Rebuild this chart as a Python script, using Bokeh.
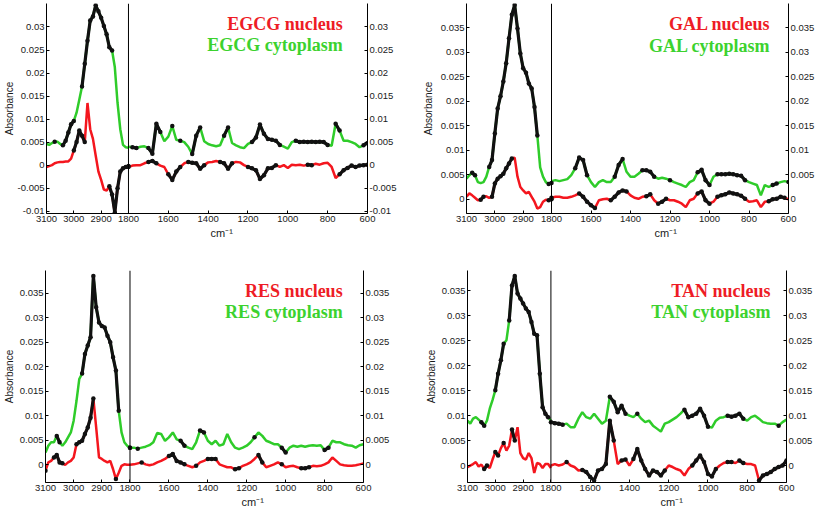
import numpy as np
from bokeh.plotting import figure
from bokeh.models import Range1d, LinearAxis, FixedTicker, CustomJSTickFormatter, Span, Label, Title
from bokeh.layouts import row, column
from bokeh.embed import file_html
from bokeh.resources import INLINE

# ---------------- data ----------------
WN_LEFT = list(range(3100, 2799, -10))    # 3100 .. 2800 cm-1
WN_RIGHT = list(range(1800, 599, -20))    # 1800 .. 600 cm-1

X_TICKS = [3100, 3000, 2900, 1800, 1600, 1400, 1200, 1000, 800, 600]
X_TICK_LABELS = ["3100", "3000", "2900", "1800", "1600", "1400", "1200", "1000", "800", "600"]
Y_TICKS_EGCG = [-0.01, -0.005, 0.0, 0.005, 0.01, 0.015, 0.02, 0.025, 0.03]
Y_TICKS_OTHER = [0.0, 0.005, 0.01, 0.015, 0.02, 0.025, 0.03, 0.035]

# EGCG
EGCG_CYT_LEFT = [0.0046, 0.0044, 0.0048, 0.0051, 0.0051, 0.0046, 0.0043, 0.0053, 0.0071, 0.0089,
                 0.0096, 0.0114, 0.0142, 0.0171, 0.0220, 0.0270, 0.0314, 0.0323, 0.0347, 0.0334,
                 0.0320, 0.0302, 0.0284, 0.0256, 0.0249, 0.0213, 0.0135, 0.0078, 0.0044, 0.0039,
                 0.0038]
EGCG_NUC_LEFT = [-0.0004, -0.0002, 0.0000, 0.0004, 0.0006, 0.0007, 0.0007, 0.0008, 0.0008, 0.0014,
                 0.0032, 0.0050, 0.0075, 0.0064, 0.0050, 0.0135, 0.0078, 0.0057, 0.0021, -0.0014,
                 -0.0032, -0.0053, -0.0055, -0.0046, -0.0064, -0.0103, -0.0050, -0.0014, -0.0007, -0.0004,
                 -0.0002]
EGCG_CYT_RIGHT = [0.0040, 0.0039, 0.0037, 0.0040, 0.0041, 0.0037, 0.0025, 0.0090, 0.0072, 0.0052,
                  0.0062, 0.0085, 0.0055, 0.0053, 0.0050, 0.0040, 0.0024, 0.0064, 0.0082, 0.0052,
                  0.0046, 0.0043, 0.0041, 0.0043, 0.0064, 0.0082, 0.0048, 0.0043, 0.0039, 0.0037,
                  0.0046, 0.0050, 0.0060, 0.0088, 0.0068, 0.0057, 0.0055, 0.0053, 0.0044, 0.0040,
                  0.0036, 0.0050, 0.0053, 0.0050, 0.0051, 0.0050, 0.0051, 0.0050, 0.0051, 0.0050,
                  0.0044, 0.0042, 0.0090, 0.0075, 0.0053, 0.0053, 0.0050, 0.0046, 0.0039, 0.0043,
                  0.0048]
EGCG_NUC_RIGHT = [-0.0004, -0.0001, 0.0000, 0.0000, 0.0004, 0.0007, 0.0009, 0.0004, -0.0001, -0.0004,
                  -0.0020, -0.0032, -0.0014, -0.0004, 0.0004, 0.0007, 0.0005, 0.0004, -0.0008, 0.0000,
                  0.0006, 0.0007, 0.0009, 0.0007, 0.0004, -0.0008, 0.0004, 0.0007, 0.0006, 0.0000,
                  -0.0004, -0.0007, -0.0011, -0.0030, -0.0022, -0.0007, -0.0006, 0.0000, -0.0004, 0.0000,
                  -0.0006, 0.0001, 0.0000, 0.0001, -0.0001, 0.0001, 0.0000, 0.0003, 0.0001, 0.0004,
                  0.0005, -0.0004, -0.0028, -0.0020, -0.0011, -0.0006, -0.0001, -0.0004, -0.0001, 0.0000,
                  0.0001]
EGCG_CYT_BLACK = [(3078, 3062), (3045, 2993), (2978, 2852), (1790, 1760), (1700, 1640), (1595, 1570),
                  (1555, 1530), (1495, 1430), (1320, 1300), (1190, 1040), (960, 800), (765, 740), (630, 600)]
EGCG_NUC_BLACK = [(3005, 2957), (2870, 2800), (1800, 1790), (1700, 1660), (1615, 1530), (1500, 1415),
                  (1350, 1280), (1200, 1050), (900, 880), (745, 600)]

# GAL
GAL_CYT_LEFT = [0.0042, 0.0049, 0.0054, 0.0049, 0.0035, 0.0033, 0.0035, 0.0046, 0.0066, 0.0080,
                0.0134, 0.0185, 0.0210, 0.0240, 0.0277, 0.0328, 0.0376, 0.0396, 0.0348, 0.0297,
                0.0267, 0.0258, 0.0236, 0.0226, 0.0188, 0.0130, 0.0065, 0.0046, 0.0035, 0.0031,
                0.0033]
GAL_NUC_LEFT = [0.0005, 0.0012, 0.0008, 0.0003, -0.0002, -0.0001, 0.0005, 0.0006, 0.0003, 0.0005,
                0.0032, 0.0042, 0.0047, 0.0052, 0.0063, 0.0073, 0.0083, 0.0085, 0.0046, 0.0025,
                0.0018, 0.0012, 0.0015, 0.0005, -0.0005, -0.0019, -0.0016, -0.0005, -0.0001, -0.0002,
                0.0000]
GAL_CYT_RIGHT = [0.0037, 0.0039, 0.0037, 0.0039, 0.0041, 0.0049, 0.0063, 0.0085, 0.0080, 0.0049,
                 0.0035, 0.0025, 0.0035, 0.0039, 0.0035, 0.0035, 0.0046, 0.0070, 0.0082, 0.0056,
                 0.0046, 0.0046, 0.0052, 0.0059, 0.0059, 0.0056, 0.0046, 0.0042, 0.0044, 0.0042,
                 0.0039, 0.0035, 0.0032, 0.0029, 0.0025, 0.0035, 0.0039, 0.0055, 0.0060, 0.0039,
                 0.0029, 0.0046, 0.0051, 0.0051, 0.0051, 0.0052, 0.0051, 0.0049, 0.0048, 0.0039,
                 0.0035, 0.0032, 0.0029, 0.0008, 0.0029, 0.0025, 0.0029, 0.0032, 0.0035, 0.0037,
                 0.0035]
GAL_NUC_RIGHT = [0.0003, 0.0005, 0.0005, 0.0003, 0.0003, 0.0005, 0.0008, 0.0012, 0.0005, -0.0005,
                 -0.0012, -0.0018, -0.0002, 0.0000, 0.0001, -0.0002, 0.0005, 0.0014, 0.0018, 0.0016,
                 0.0008, 0.0003, 0.0001, 0.0005, 0.0006, 0.0010, -0.0002, -0.0009, -0.0005, 0.0001,
                 -0.0002, -0.0002, -0.0005, -0.0009, -0.0016, -0.0002, 0.0001, 0.0012, 0.0016, -0.0002,
                 -0.0009, -0.0005, 0.0005, 0.0008, 0.0010, 0.0014, 0.0012, 0.0010, 0.0007, 0.0001,
                 -0.0005, -0.0004, -0.0002, -0.0016, -0.0005, -0.0004, 0.0000, 0.0001, 0.0005, 0.0003,
                 0.0000]
GAL_CYT_BLACK = [(3085, 3062), (3025, 2850), (2815, 2800), (1680, 1620), (1485, 1425), (1350, 1280),
                 (1215, 1195), (1070, 995), (975, 815), (680, 660), (615, 600)]
GAL_NUC_BLACK = [(3052, 3040), (3010, 2932), (2812, 2800), (1800, 1790), (1670, 1575), (1510, 1405),
                 (1330, 1300), (1260, 1220), (1060, 985), (970, 815), (700, 615)]

# RES
RES_CYT_LEFT = [0.0025, 0.0039, 0.0046, 0.0046, 0.0059, 0.0046, 0.0039, 0.0046, 0.0056, 0.0066,
                0.0090, 0.0130, 0.0175, 0.0186, 0.0226, 0.0243, 0.0260, 0.0385, 0.0321, 0.0290,
                0.0283, 0.0280, 0.0263, 0.0250, 0.0219, 0.0192, 0.0110, 0.0066, 0.0046, 0.0039,
                0.0035]
RES_NUC_LEFT = [-0.0012, 0.0005, 0.0008, 0.0015, 0.0020, 0.0005, 0.0003, 0.0000, 0.0005, 0.0008,
                0.0015, 0.0042, 0.0046, 0.0049, 0.0063, 0.0076, 0.0096, 0.0135, 0.0076, 0.0015,
                0.0012, 0.0008, 0.0005, 0.0008, -0.0009, -0.0029, -0.0016, -0.0002, 0.0001, 0.0000,
                0.0000]
RES_CYT_RIGHT = [0.0035, 0.0035, 0.0033, 0.0035, 0.0037, 0.0040, 0.0046, 0.0065, 0.0063, 0.0049,
                 0.0056, 0.0066, 0.0052, 0.0049, 0.0039, 0.0035, 0.0032, 0.0046, 0.0070, 0.0066,
                 0.0049, 0.0042, 0.0049, 0.0039, 0.0042, 0.0063, 0.0046, 0.0035, 0.0032, 0.0035,
                 0.0039, 0.0046, 0.0056, 0.0066, 0.0059, 0.0049, 0.0046, 0.0042, 0.0042, 0.0035,
                 0.0025, 0.0035, 0.0039, 0.0037, 0.0039, 0.0037, 0.0039, 0.0040, 0.0039, 0.0040,
                 0.0030, 0.0035, 0.0049, 0.0046, 0.0046, 0.0042, 0.0040, 0.0039, 0.0035, 0.0040,
                 0.0042]
RES_NUC_RIGHT = [0.0000, 0.0001, 0.0003, 0.0005, 0.0001, -0.0001, 0.0001, 0.0005, 0.0008, 0.0012,
                 0.0018, 0.0022, 0.0008, 0.0005, 0.0001, -0.0002, -0.0005, -0.0002, 0.0005, 0.0008,
                 0.0012, 0.0012, 0.0012, 0.0001, -0.0002, -0.0005, -0.0005, -0.0009, -0.0007, -0.0002,
                 0.0001, 0.0005, 0.0012, 0.0020, 0.0005, -0.0005, -0.0002, 0.0001, 0.0005, 0.0001,
                 -0.0005, -0.0003, -0.0002, -0.0005, -0.0007, -0.0007, -0.0005, -0.0002, -0.0003, -0.0002,
                 0.0001, 0.0005, 0.0015, 0.0008, 0.0001, -0.0001, -0.0002, -0.0002, -0.0001, 0.0001,
                 0.0003]
RES_CYT_BLACK = [(3068, 3045), (2975, 2840), (2805, 2800), (1800, 1790), (1760, 1750), (1540, 1515),
                 (1445, 1420), (1175, 1160), (1020, 985), (800, 780)]
RES_NUC_BLACK = [(3100, 3092), (3075, 3040), (2998, 2922), (2858, 2843), (1750, 1730), (1610, 1515),
                 (1475, 1450), (1415, 1345), (1270, 1235), (1150, 1115), (1035, 1005), (930, 870)]

# TAN
TAN_CYT_LEFT = [0.0090, 0.0084, 0.0094, 0.0097, 0.0092, 0.0087, 0.0080, 0.0090, 0.0114, 0.0131,
                0.0151, 0.0184, 0.0211, 0.0244, 0.0251, 0.0291, 0.0361, 0.0380, 0.0345, 0.0335,
                0.0325, 0.0315, 0.0308, 0.0288, 0.0264, 0.0261, 0.0184, 0.0117, 0.0104, 0.0097,
                0.0090]
TAN_NUC_LEFT = [-0.0003, 0.0000, 0.0003, 0.0007, -0.0002, 0.0002, -0.0007, 0.0000, -0.0005, 0.0012,
                0.0027, 0.0020, 0.0035, 0.0045, 0.0030, 0.0040, 0.0072, 0.0050, 0.0077, 0.0025,
                0.0015, 0.0012, 0.0025, 0.0015, -0.0015, 0.0005, 0.0003, -0.0005, 0.0003, 0.0003,
                -0.0005]
TAN_CYT_RIGHT = [0.0087, 0.0085, 0.0084, 0.0082, 0.0084, 0.0077, 0.0077, 0.0094, 0.0107, 0.0097,
                 0.0094, 0.0104, 0.0094, 0.0084, 0.0090, 0.0138, 0.0128, 0.0107, 0.0120, 0.0104,
                 0.0100, 0.0097, 0.0104, 0.0094, 0.0087, 0.0090, 0.0080, 0.0074, 0.0068, 0.0084,
                 0.0087, 0.0092, 0.0097, 0.0104, 0.0112, 0.0097, 0.0100, 0.0104, 0.0114, 0.0100,
                 0.0078, 0.0076, 0.0090, 0.0096, 0.0097, 0.0100, 0.0098, 0.0100, 0.0104, 0.0094,
                 0.0090, 0.0097, 0.0100, 0.0094, 0.0087, 0.0085, 0.0084, 0.0084, 0.0080, 0.0087,
                 0.0092]
TAN_NUC_RIGHT = [0.0000, 0.0003, 0.0000, 0.0002, 0.0007, 0.0000, -0.0003, -0.0010, -0.0009, -0.0013,
                 -0.0023, -0.0030, -0.0010, -0.0007, 0.0003, 0.0090, 0.0050, 0.0003, 0.0010, 0.0012,
                 0.0000, 0.0013, 0.0033, 0.0010, -0.0007, -0.0020, -0.0010, -0.0013, -0.0020, -0.0010,
                 0.0000, -0.0003, -0.0007, -0.0010, -0.0020, -0.0007, 0.0000, 0.0010, 0.0020, 0.0007,
                 -0.0017, -0.0022, -0.0007, 0.0000, 0.0005, 0.0007, 0.0007, 0.0005, 0.0010, 0.0005,
                 0.0003, 0.0003, 0.0000, -0.0030, -0.0020, -0.0017, -0.0013, -0.0007, -0.0003, 0.0000,
                 0.0010]
TAN_CYT_BLACK = [(3055, 3035), (3005, 2965), (2955, 2810), (1800, 1740), (1515, 1420), (1365, 1350),
                 (1120, 995), (915, 810), (640, 630)]
TAN_NUC_BLACK = [(3045, 3030), (3008, 2990), (2978, 2965), (2948, 2928), (1725, 1715), (1645, 1480),
                 (1440, 1420), (1390, 1220), (1080, 960), (900, 880), (850, 820), (755, 600)]

# ---------------- style ----------------
RED = "#f4161e"
GREEN = "#2fcc2a"
BLACK = "#111111"
RED_TXT = "#ee1c25"
GREEN_TXT = "#3cd22e"
TEXT_COL = "#1a1a1a"
TICK_FONT = "Liberation Sans"
LEGEND_FONT = "Liberation Serif"

# fig = (left, top, width, height) and frame = (left, top, right, bottom) in page pixels
PANELS = [
    dict(name="EGCG", nl=EGCG_NUC_LEFT, nr=EGCG_NUC_RIGHT, cl=EGCG_CYT_LEFT, cr=EGCG_CYT_RIGHT,
         nb=EGCG_NUC_BLACK, cb=EGCG_CYT_BLACK, yr=(-0.0105, 0.0351), yt=Y_TICKS_EGCG,
         fig=(0, 0, 414, 256), frame=(42, 3, 367, 216), ratio=0.729,
         legend=(342, 24, 45.5), ylab_standoff=0, xlab_left=206),
    dict(name="GAL", nl=GAL_NUC_LEFT, nr=GAL_NUC_RIGHT, cl=GAL_CYT_LEFT, cr=GAL_CYT_RIGHT,
         nb=GAL_NUC_BLACK, cb=GAL_CYT_BLACK, yr=(-0.0029, 0.0399), yt=Y_TICKS_OTHER,
         fig=(414, 0, 403, 256), frame=(466, 3, 788, 213), ratio=0.697,
         legend=(770, 23.5, 45), ylab_standoff=4, xlab_left=654),
    dict(name="RES", nl=RES_NUC_LEFT, nr=RES_NUC_RIGHT, cl=RES_CYT_LEFT, cr=RES_CYT_RIGHT,
         nb=RES_NUC_BLACK, cb=RES_CYT_BLACK, yr=(-0.0036, 0.0396), yt=Y_TICKS_OTHER,
         fig=(0, 256, 414, 254), frame=(43, 270, 363, 482), ratio=0.691,
         legend=(342, 290, 311.5), ylab_standoff=2, xlab_left=239),
    dict(name="TAN", nl=TAN_NUC_LEFT, nr=TAN_NUC_RIGHT, cl=TAN_CYT_LEFT, cr=TAN_CYT_RIGHT,
         nb=TAN_NUC_BLACK, cb=TAN_CYT_BLACK, yr=(-0.0034, 0.0391), yt=Y_TICKS_OTHER,
         fig=(414, 256, 403, 254), frame=(467, 270, 786, 482), ratio=0.706,
         legend=(770, 290, 311), ylab_standoff=2, xlab_left=660),
]


def xpos(w, r):
    w = np.asarray(w, dtype=float)
    return np.where(w >= 2800, 3100.0 - w, 300.0 + (1800.0 - w) * r)


def black_mask(wn, segs):
    wn = np.asarray(wn, dtype=float)
    m = np.zeros(len(wn), dtype=bool)
    for a, b in segs:
        m |= (wn <= max(a, b)) & (wn >= min(a, b))
    return m


def style_axis(ax):
    ax.axis_line_color = "black"
    ax.axis_line_width = 1
    ax.major_tick_in = 3
    ax.major_tick_out = 0
    ax.major_tick_line_color = "black"
    ax.minor_tick_line_color = None
    ax.major_label_text_font = TICK_FONT
    ax.major_label_text_font_size = "9.5px"
    ax.major_label_text_color = TEXT_COL
    ax.major_label_standoff = 2


Y_FMT_CODE = "return String(parseFloat(tick.toFixed(4)));"
X_FMT_CODE = """
let best = 0, d = Infinity;
for (let i = 0; i < pos.length; i++) {
  const e = Math.abs(pos[i] - tick);
  if (e < d) { d = e; best = i; }
}
return labels[best];
"""


def make_panel(cfg):
    r = cfg["ratio"]
    xmax = 300.0 + 1200.0 * r
    gx, gy, gw, gh = cfg["fig"]
    fl, ft, fr, fb = cfg["frame"]
    y0, y1 = cfg["yr"]

    p = figure(width=gw, height=gh, x_range=Range1d(0, xmax), y_range=Range1d(y0, y1),
               output_backend="svg", toolbar_location=None,
               min_border_left=fl - gx, min_border_right=gx + gw - fr,
               min_border_top=ft - gy, min_border_bottom=gy + gh - fb)
    p.outline_line_color = None
    p.xgrid.visible = False
    p.ygrid.visible = False
    p.background_fill_color = "white"
    p.border_fill_color = "white"

    def to_data(px, py):
        return ((px - fl) / (fr - fl) * xmax, y1 - (py - ft) / (fb - ft) * (y1 - y0))

    # coloured spectra (left and right parts drawn separately: broken axis)
    for wn, nuc, cyt in ((WN_LEFT, cfg["nl"], cfg["cl"]), (WN_RIGHT, cfg["nr"], cfg["cr"])):
        xs = xpos(wn, r)
        p.line(xs, cyt, line_color=GREEN, line_width=2.5)
        p.line(xs, nuc, line_color=RED, line_width=2.5)

    # black overlays (marked regions)
    for wn, vals_n, vals_c in ((WN_LEFT, cfg["nl"], cfg["cl"]), (WN_RIGHT, cfg["nr"], cfg["cr"])):
        xs = xpos(wn, r)
        for vals, segs in ((vals_c, cfg["cb"]), (vals_n, cfg["nb"])):
            v = np.asarray(vals, dtype=float)
            m = black_mask(wn, segs)
            p.line(xs, np.where(m, v, np.nan), line_color=BLACK, line_width=3.2)
            p.scatter(xs[m], v[m], size=4.5, color=BLACK, line_color=None)

    # break line
    p.add_layout(Span(location=300.0, dimension="height", line_color="black", line_width=1))

    # axes
    tick_pos = [float(v) for v in xpos(X_TICKS, r)]
    p.xaxis.ticker = FixedTicker(ticks=tick_pos)
    p.xaxis.formatter = CustomJSTickFormatter(args=dict(pos=tick_pos, labels=X_TICK_LABELS), code=X_FMT_CODE)
    p.yaxis.ticker = FixedTicker(ticks=cfg["yt"])
    p.yaxis.formatter = CustomJSTickFormatter(code=Y_FMT_CODE)
    right = LinearAxis(ticker=FixedTicker(ticks=cfg["yt"]), formatter=CustomJSTickFormatter(code=Y_FMT_CODE))
    p.add_layout(right, "right")
    for ax in (p.xaxis[0], p.yaxis[0], right):
        style_axis(ax)

    # y axis title
    yax = p.yaxis[0]
    yax.axis_label = "Absorbance"
    yax.axis_label_text_font = TICK_FONT
    yax.axis_label_text_font_size = "10px"
    yax.axis_label_text_font_style = "normal"
    yax.axis_label_text_color = TEXT_COL
    yax.axis_label_standoff = cfg["ylab_standoff"]

    # x axis title (offset so that it sits where the reference has it)
    p.add_layout(Title(text="cm\u207b\u00b9", align="left", offset=cfg["xlab_left"] - fl, standoff=0,
                       text_font=TICK_FONT, text_font_size="11px", text_font_style="normal",
                       text_color=TEXT_COL), "below")

    # legend texts
    lx, b1, b2 = cfg["legend"]
    for text, color, by in ((cfg["name"] + " nucleus", RED_TXT, b1), (cfg["name"] + " cytoplasm", GREEN_TXT, b2)):
        xd, yd = to_data(lx, by)
        p.add_layout(Label(x=xd, y=yd, text=text, text_font=LEGEND_FONT, text_font_style="bold",
                           text_font_size="18px", text_color=color, text_align="right",
                           text_baseline="alphabetic"))
    return p


figs = [make_panel(c) for c in PANELS]
layout = column(row(figs[0], figs[1]), row(figs[2], figs[3]))

open("out.html", "w").write(file_html(layout, INLINE))
